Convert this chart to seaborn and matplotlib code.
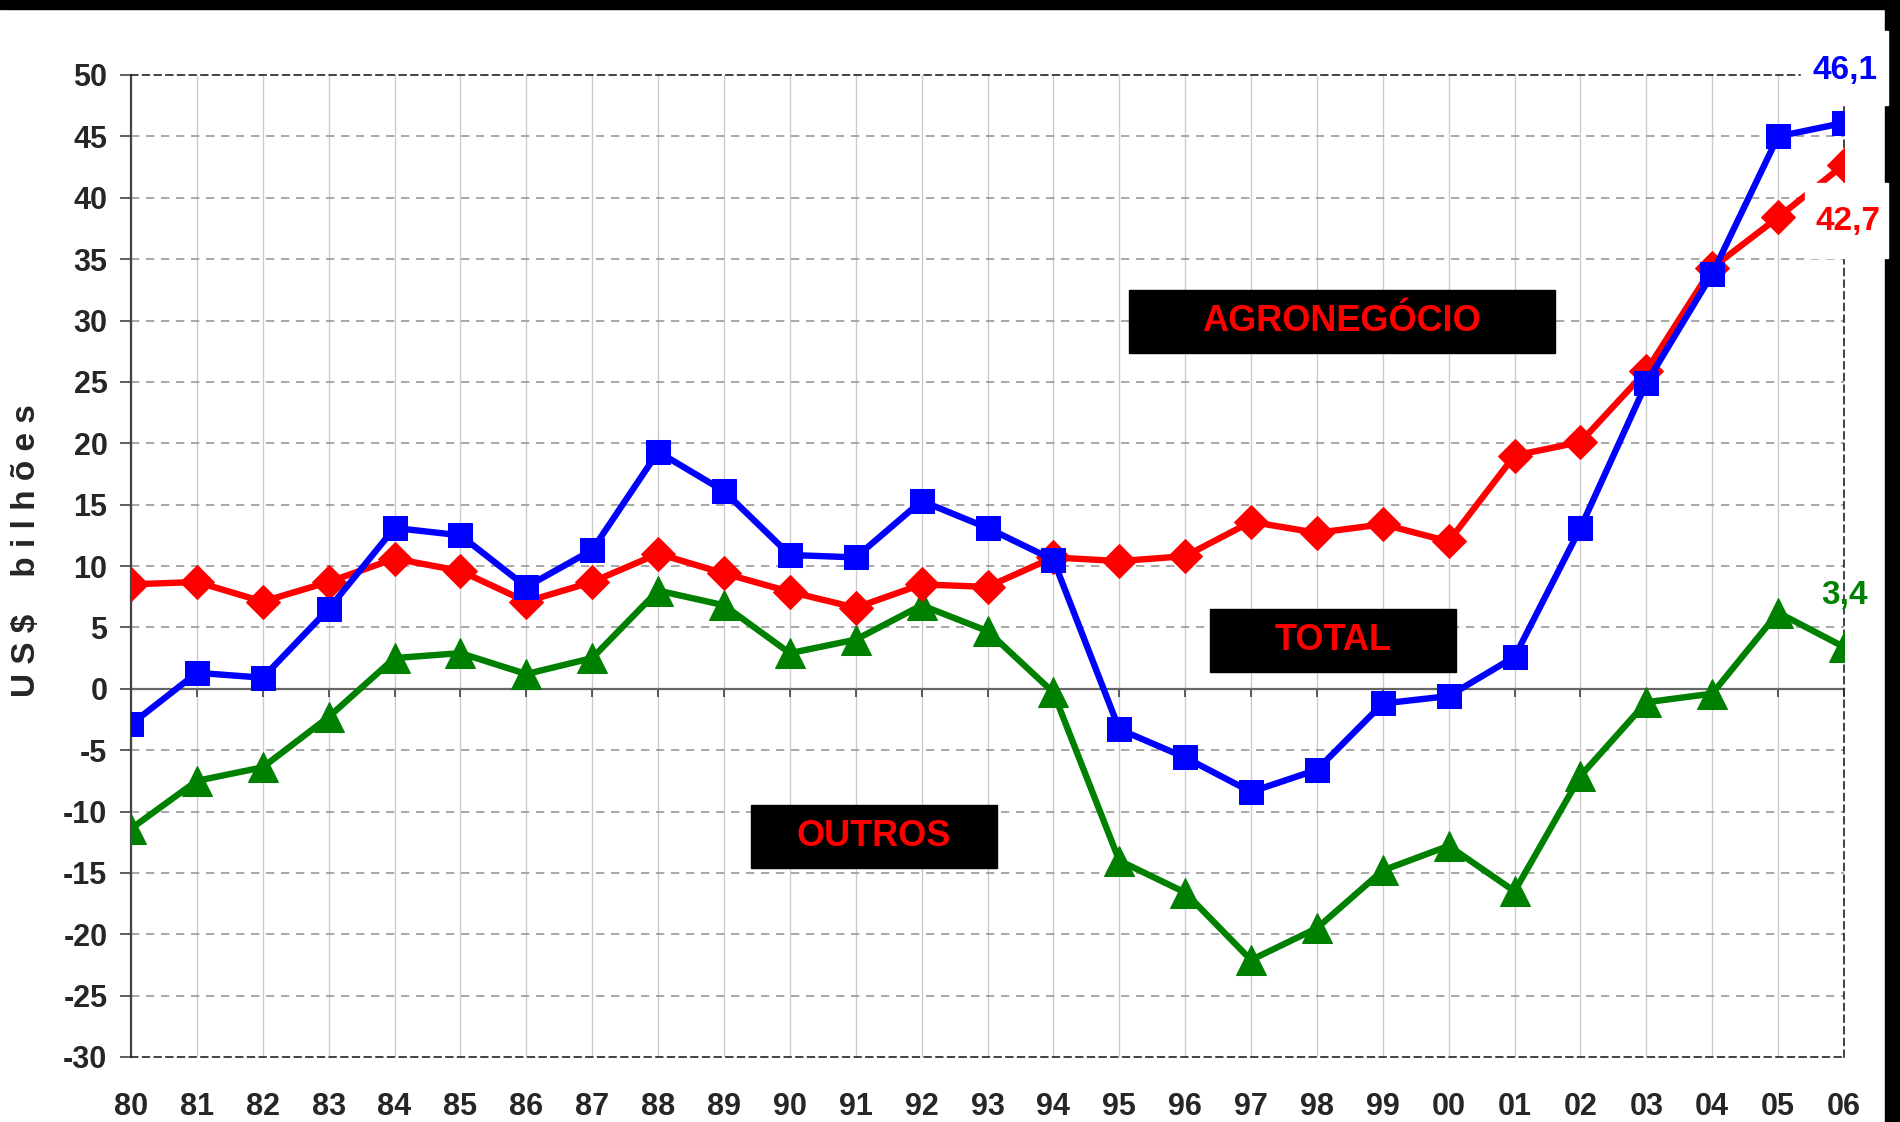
import matplotlib
matplotlib.use("Agg")
import matplotlib.pyplot as plt
from matplotlib.patches import Rectangle
import seaborn as sns
import pandas as pd

# anos (rótulos do eixo x)
anos = ["80", "81", "82", "83", "84", "85", "86", "87", "88", "89", "90", "91", "92",
        "93", "94", "95", "96", "97", "98", "99", "00", "01", "02", "03", "04", "05", "06"]

# saldo da balança comercial, US$ bilhões
total = [-2.9, 1.3, 0.9, 6.5, 13.1, 12.5, 8.3, 11.3, 19.3, 16.1, 10.9, 10.7, 15.3,
         13.1, 10.5, -3.3, -5.6, -8.4, -6.6, -1.2, -0.6, 2.6, 13.1, 24.9, 33.8, 45.0, 46.1]
agronegocio = [8.5, 8.7, 7.1, 8.7, 10.6, 9.6, 7.1, 8.7, 11.0, 9.4, 7.9, 6.6, 8.5,
               8.3, 10.7, 10.4, 10.8, 13.6, 12.7, 13.4, 12.0, 19.0, 20.1, 25.9, 34.3, 38.4, 42.7]
outros = [-11.4, -7.5, -6.4, -2.3, 2.5, 2.9, 1.2, 2.5, 8.0, 6.8, 2.9, 4.0, 6.8,
          4.7, -0.3, -14.0, -16.6, -22.1, -19.5, -14.8, -12.8, -16.5, -7.1, -1.1, -0.4, 6.2, 3.4]

sns.set_style("white")
plt.rcParams["font.family"] = ["Liberation Sans", "DejaVu Sans"]
plt.rcParams["font.weight"] = "bold"
plt.rcParams["axes.unicode_minus"] = False

df = pd.DataFrame({"i": range(len(anos)), "total": total,
                   "agro": agronegocio, "outros": outros})

fig = plt.figure(figsize=(19, 11.22), dpi=100)
ax = fig.add_axes([131 / 1900, 65 / 1122, 1713 / 1900, 982 / 1122])

# moldura preta (topo e direita)
fig.patches.append(Rectangle((0, 1 - 9 / 1122), 1, 9 / 1122, transform=fig.transFigure,
                             color="black", zorder=-1))
fig.patches.append(Rectangle((1885 / 1900, 0), 15 / 1900, 1, transform=fig.transFigure,
                             color="black", zorder=-1))

sns.lineplot(data=df, x="i", y="outros", ax=ax, color="#008000", lw=4.6,
             marker="^", markersize=22, markeredgecolor="#008000", zorder=3)
sns.lineplot(data=df, x="i", y="agro", ax=ax, color="#ff0000", lw=4.6,
             marker="D", markersize=17.5, markeredgecolor="#ff0000", zorder=4)
sns.lineplot(data=df, x="i", y="total", ax=ax, color="#0000ff", lw=4.6,
             marker="s", markersize=17.5, markeredgecolor="#0000ff", zorder=5)

ax.set_xlim(0, len(anos) - 1)
ax.set_ylim(-30, 50)
ax.set_yticks(range(-30, 51, 5))
ax.set_xticks(range(len(anos)))
ax.set_xticklabels(anos)
ax.set_xlabel("")
ax.set_ylabel("")

ax.tick_params(axis="y", direction="out", length=8, width=1.2, color="#444444",
               pad=9, labelsize=22, left=True)
ax.tick_params(axis="x", length=0, pad=25, labelsize=22)
for lab in ax.get_xticklabels() + ax.get_yticklabels():
    lab.set_fontweight("bold")

# grades
for i in range(len(anos)):
    ax.axvline(i, color="#cccccc", lw=1, zorder=0)
for v in range(-25, 50, 5):
    if v != 0:
        ax.axhline(v, color="#999999", lw=1.2, ls=(0, (5, 4)), zorder=0)

# linha do zero com marcas
zero = ax.secondary_xaxis(30 / 80)
zero.set_xticks(range(len(anos)))
zero.tick_params(direction="out", length=6, width=1.2, color="#444444", labelbottom=False)
zero.spines["bottom"].set_color("#666666")
zero.spines["bottom"].set_linewidth(1.6)

for s in ["top", "bottom", "right"]:
    ax.spines[s].set_linestyle((0, (4, 3)))
    ax.spines[s].set_color("#222222")
    ax.spines[s].set_linewidth(1.2)
ax.spines["left"].set_color("#444444")
ax.spines["left"].set_linewidth(1.6)

# caixas de rótulo
caixas = [("AGRONEGÓCIO", 15.15, 21.61, 27.34, 32.47),
          ("TOTAL", 16.38, 20.11, 1.36, 6.49),
          ("OUTROS", 9.41, 13.14, -14.60, -9.47)]
for txt, x0, x1, y0, y1 in caixas:
    ax.add_patch(Rectangle((x0, y0), x1 - x0, y1 - y0, color="black", zorder=6))
    ax.text((x0 + x1) / 2, (y0 + y1) / 2, txt, color="#ff0000", fontsize=26,
            fontweight="bold", ha="center", va="center", zorder=7)

# valores finais
ax.add_patch(Rectangle((25.35, 47.53), 1.32, 6.03, color="white", clip_on=False, zorder=8))
ax.add_patch(Rectangle((25.41, 35.07), 1.26, 6.11, color="white", clip_on=False, zorder=8))
ax.text(26.01, 50.4, "46,1", color="#0000ff", fontsize=24, fontweight="bold",
        ha="center", va="center", clip_on=False, zorder=9)
ax.text(26.06, 38.1, "42,7", color="#ff0000", fontsize=24, fontweight="bold",
        ha="center", va="center", clip_on=False, zorder=9)
ax.text(26.0, 7.6, "3,4", color="#008000", fontsize=24, fontweight="bold",
        ha="center", va="center", clip_on=False, zorder=9)

fig.text(27 / 1900, 1 - 551 / 1122, "U S $    b i l h õ e s", rotation=90,
         fontsize=24, fontweight="bold", ha="center", va="center")

fig.savefig("out.png", dpi=100)
